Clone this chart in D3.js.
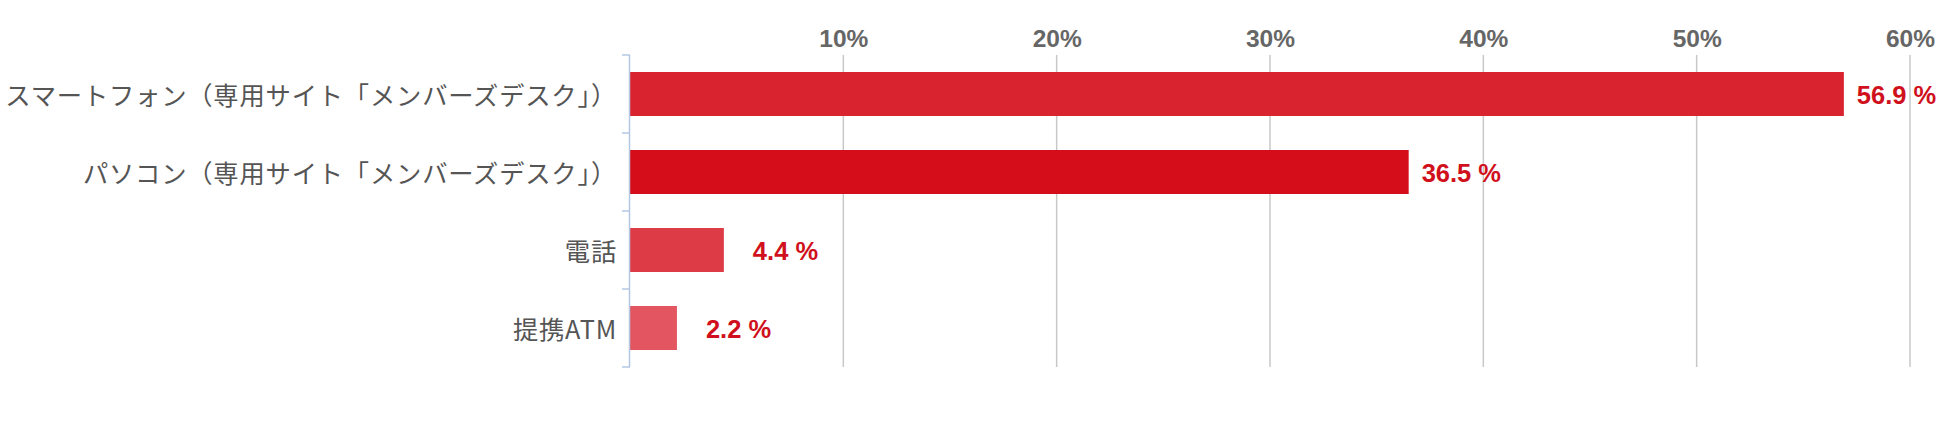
<!DOCTYPE html>
<html>
<head>
<meta charset="utf-8">
<script src="https://cdn.jsdelivr.net/npm/d3@7"></script>
<style>
  html, body { margin: 0; padding: 0; background: #fff; }
  svg { display: block; }
</style>
</head>
<body>
<svg id="chart" width="1950" height="424"></svg>
<script>
const categories = [
  "スマートフォン（専用サイト「メンバーズデスク」）",
  "パソコン（専用サイト「メンバーズデスク」）",
  "電話",
  "提携ATM"
];
const values = [56.9, 36.5, 4.4, 2.2];
const valueLabels = ["56.9 %", "36.5 %", "4.4 %", "2.2 %"];
const barColors = ["#d9232f", "#d50c19", "#dd3c47", "#e25561"];
const tickValues = [10, 20, 30, 40, 50, 60];
const tickLabels = ["10%", "20%", "30%", "40%", "50%", "60%"];

const svg = d3.select("#chart");

const x = d3.scaleLinear().domain([0, 60]).range([630, 1910]);
const y = d3.scaleBand()
  .domain(categories)
  .range([55, 367])
  .paddingInner(0.436)
  .paddingOuter(0.218);

// gridlines
svg.append("g")
  .selectAll("line")
  .data(tickValues)
  .join("line")
  .attr("x1", d => x(d)).attr("x2", d => x(d))
  .attr("y1", y.range()[0]).attr("y2", y.range()[1])
  .attr("stroke", "#c8c8c8")
  .attr("stroke-width", 1.5);

// top axis labels
const xAxis = d3.axisTop(x)
  .tickValues(tickValues)
  .tickFormat((d, i) => tickLabels[i])
  .tickSize(0)
  .tickPadding(0);
const gx = svg.append("g").attr("transform", "translate(0,47)").call(xAxis);
gx.select(".domain").remove();
gx.selectAll("text")
  .attr("fill", "#666")
  .attr("font-family", "'Liberation Sans', Arial, sans-serif")
  .attr("font-weight", "bold")
  .attr("font-size", 24.5);

// bars
svg.append("g")
  .selectAll("rect")
  .data(categories)
  .join("rect")
  .attr("x", x(0))
  .attr("y", d => y(d))
  .attr("width", (d, i) => x(values[i]) - x(0))
  .attr("height", y.bandwidth())
  .attr("fill", (d, i) => barColors[i]);

// left axis line and ticks at category boundaries
const axisColor = "#b4c8e4";
svg.append("line")
  .attr("x1", x(0) - 0.5).attr("x2", x(0) - 0.5)
  .attr("y1", y.range()[0]).attr("y2", y.range()[1])
  .attr("stroke", axisColor).attr("stroke-width", 1.5);
const boundaries = d3.range(categories.length + 1).map(i => y.range()[0] + i * y.step());
svg.append("g")
  .selectAll("line")
  .data(boundaries)
  .join("line")
  .attr("x1", x(0) - 8).attr("x2", x(0))
  .attr("y1", d => d).attr("y2", d => d)
  .attr("stroke", axisColor).attr("stroke-width", 1.5);

// category labels
svg.append("g")
  .selectAll("text")
  .data(categories)
  .join("text")
  .attr("x", x(0) - 13)
  .attr("y", d => y(d) + y.bandwidth() / 2)
  .attr("text-anchor", "end")
  .attr("dominant-baseline", "central")
  .attr("fill", "#555")
  .attr("font-family", "'Noto Sans CJK JP', sans-serif")
  .attr("font-size", 25.3)
  .attr("letter-spacing", 0.8)
  .text(d => d);

// value labels
svg.append("g")
  .selectAll("text")
  .data(categories)
  .join("text")
  .attr("x", (d, i) => x(values[i]) + (values[i] < 10 ? 29 : 13))
  .attr("y", d => y(d) + y.bandwidth() / 2 + 1)
  .attr("dominant-baseline", "central")
  .attr("fill", "#d0101c")
  .attr("font-family", "'Liberation Sans', Arial, sans-serif")
  .attr("font-weight", "bold")
  .attr("font-size", 25.5)
  .text((d, i) => valueLabels[i]);
</script>
</body>
</html>
